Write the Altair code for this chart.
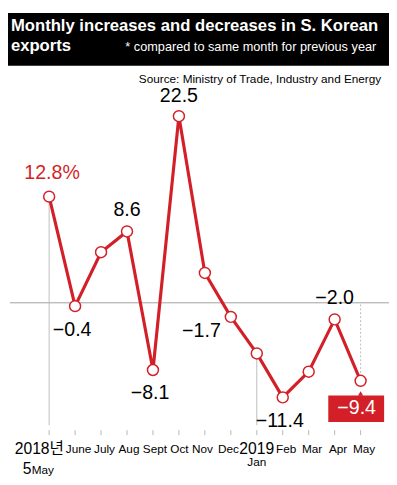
import altair as alt
import pandas as pd

# ---- data ----
months = ["2018년", "June", "July", "Aug", "Sept", "Oct", "Nov", "Dec", "2019", "Feb", "Mar", "Apr", "May"]
sub_months = ["May", "", "", "", "", "", "", "", "Jan", "", "", "", ""]
values = [12.8, -0.4, 6.1, 8.6, -8.1, 22.5, 3.6, -1.7, -6.1, -11.4, -8.3, -2.0, -9.4]
labels = ["12.8%", "−0.4", "", "8.6", "−8.1", "22.5", "", "−1.7", "", "−11.4", "", "−2.0", "−9.4"]
label_pos = ["above", "below", "", "above", "below", "above", "", "left", "", "below", "", "above", "box"]

title_1 = "Monthly increases and decreases in S. Korean"
title_2 = "exports"
subtitle = "* compared to same month for previous year"
source = "Source: Ministry of Trade, Industry and Energy"

df = pd.DataFrame({
    "i": list(range(len(months))),
    "month": months,
    "sub": sub_months,
    "value": values,
    "label": labels,
    "pos": label_pos,
})
df["zero"] = 0.0

RED = "#d31f27"
GRAY = "#a0a0a0"
W, H = 389, 477
SANS = "Liberation Sans, Arial, Noto Sans CJK KR, sans-serif"

xs = alt.Scale(domain=[-1.585, 13.094], nice=False, zero=False)
ys = alt.Scale(domain=[-21.37, 34.946], nice=False, zero=False)
X = alt.X("i:Q", scale=xs, axis=None)
Y = alt.Y("value:Q", scale=ys, axis=None)

base = alt.Chart(df)
one = base.transform_filter("datum.i == 0")

# header
head_bg = one.mark_rect(color="black").encode(
    x=alt.value(0), x2=alt.value(W), y=alt.value(0), y2=alt.value(54))
head_1 = one.mark_text(align="left", baseline="alphabetic", font=SANS,
                       fontWeight="bold", fontSize=17, color="white").encode(
    x=alt.value(3), y=alt.value(18), text=alt.value(title_1))
head_2 = one.mark_text(align="left", baseline="alphabetic", font=SANS,
                       fontWeight="bold", fontSize=17, color="white").encode(
    x=alt.value(3), y=alt.value(39), text=alt.value(title_2))
head_3 = one.mark_text(align="right", baseline="alphabetic", font=SANS,
                       fontSize=13, color="white").encode(
    x=alt.value(376), y=alt.value(39), text=alt.value(subtitle))
src = one.mark_text(align="right", baseline="alphabetic", font=SANS,
                    fontSize=12, color="black").encode(
    x=alt.value(381), y=alt.value(72), text=alt.value(source))

# guides
zero_line = one.mark_rule(color=GRAY, strokeWidth=1).encode(
    x=alt.value(2), x2=alt.value(W), y=alt.Y("zero:Q", scale=ys, axis=None))
vguides = base.mark_rule(color="#bdbdbd", strokeWidth=1).encode(
    x=X, y=Y, y2=alt.value(421)).transform_filter("datum.i == 0 || datum.i == 8")
may_guide = base.mark_rule(color="#bdbdbd", strokeWidth=1, strokeDash=[2, 2]).encode(
    x=X, y=Y, y2=alt.Y2("zero:Q")).transform_filter("datum.i == 12")
ticks = base.mark_rule(color="#b5b5b5", strokeWidth=1).encode(
    x=X, y=alt.value(426), y2=alt.value(431))

# series
line = base.mark_line(color=RED, strokeWidth=3.2).encode(x=X, y=Y)
pts = base.mark_point(shape="circle", filled=True, fill="white", stroke=RED,
                      strokeWidth=1.5, size=125, opacity=1).encode(x=X, y=Y)

# value labels
lab_kw = dict(font=SANS, fontSize=20, baseline="middle", align="center")
above = base.mark_text(dy=-22, color="black", **lab_kw).encode(
    x=X, y=Y, text="label:N").transform_filter("datum.pos == 'above' && datum.i > 0 && datum.i != 5")
top = base.mark_text(dy=-20, color="black", **lab_kw).encode(
    x=X, y=Y, text="label:N").transform_filter("datum.i == 5")
first = base.mark_text(dx=3, dy=-24, color=RED, **lab_kw).encode(
    x=X, y=Y, text="label:N").transform_filter("datum.i == 0")
below = base.mark_text(dx=-3, dy=24, color="black", **lab_kw).encode(
    x=X, y=Y, text="label:N").transform_filter("datum.pos == 'below'")
left = base.mark_text(dx=-30, dy=14, color="black", **lab_kw).encode(
    x=X, y=Y, text="label:N").transform_filter("datum.pos == 'left'")
box = base.mark_rect(color=RED, xOffset=-33, x2Offset=24, yOffset=15, y2Offset=42).encode(
    x=X, x2=alt.X2("i:Q"), y=Y, y2=alt.Y2("value:Q")).transform_filter("datum.pos == 'box'")
arrow = base.mark_point(shape="triangle-up", filled=True, color=RED, opacity=1,
                        size=30, yOffset=13).encode(x=X, y=Y).transform_filter("datum.pos == 'box'")
box_txt = base.mark_text(dx=-4, dy=28, color="white", **lab_kw).encode(
    x=X, y=Y, text="label:N").transform_filter("datum.pos == 'box'")

# month axis labels
small_kw = dict(font=SANS, fontSize=12, baseline="alphabetic", align="center", color="black")
big_kw = dict(font=SANS, fontSize=16, baseline="alphabetic", align="center", color="black")
m_a = base.mark_text(dx=3.5, **small_kw).encode(
    x=X, y=alt.value(449), text="month:N").transform_filter("datum.i == 1 || datum.i == 2 || datum.i >= 9")
m_b = base.mark_text(dx=2, **small_kw).encode(
    x=X, y=alt.value(449), text="month:N").transform_filter("datum.i == 3 || datum.i == 4")
m_c = base.mark_text(dx=0.5, **small_kw).encode(
    x=X, y=alt.value(449), text="month:N").transform_filter("datum.i == 5")
m_d = base.mark_text(dx=-2.5, **small_kw).encode(
    x=X, y=alt.value(449), text="month:N").transform_filter("datum.i == 6 || datum.i == 7")
m_big = base.mark_text(**big_kw).encode(
    x=X, y=alt.value(450), text="month:N").transform_filter("datum.i == 8")
m_2018 = base.mark_text(dx=-10, **big_kw).encode(
    x=X, y=alt.value(450), text="month:N").transform_filter("datum.i == 0")
sub_may = base.mark_text(dx=-6.5, **small_kw).encode(
    x=X, y=alt.value(471), text="sub:N").transform_filter("datum.i == 0")
sub_5 = base.mark_text(dx=-22.5, **big_kw).encode(
    x=X, y=alt.value(471), text=alt.value("5")).transform_filter("datum.i == 0")
sub_jan = base.mark_text(**small_kw).encode(
    x=X, y=alt.value(463), text="sub:N").transform_filter("datum.i == 8")

chart = alt.layer(
    head_bg, head_1, head_2, head_3, src,
    zero_line, vguides, may_guide, ticks,
    line, pts,
    above, top, first, below, left, box, arrow, box_txt,
    m_a, m_b, m_c, m_d, m_big, m_2018, sub_may, sub_5, sub_jan,
).properties(
    width=W, height=H, padding=0, autosize=alt.AutoSizeParams(type="none"),
).configure_view(stroke=None)

chart.save("out.html", embed_options={"renderer": "svg", "actions": False})
